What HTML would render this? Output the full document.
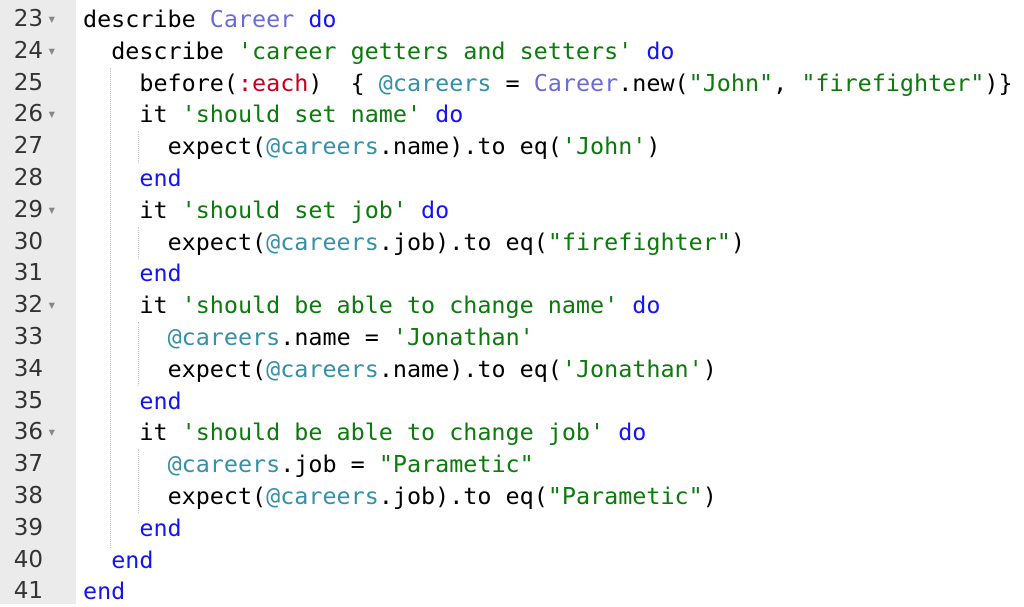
<!DOCTYPE html>
<html><head><meta charset="utf-8"><style>
body{margin:0;width:1024px;height:604px;background:#fff;overflow:hidden;position:relative;font-family:"DejaVu Sans Mono","Liberation Mono",monospace}
#g{position:absolute;left:0;top:0;width:76px;height:604px;background:#ebebeb}
.n{position:absolute;left:0;width:43px;text-align:right;font-family:"DejaVu Sans",sans-serif;font-size:23px;color:#333;line-height:32px}
.a{position:absolute;left:47px;font-size:16px;color:#888;line-height:32px}
.l{position:absolute;left:83px;font-family:"DejaVu Sans Mono",monospace;font-size:23.4px;line-height:32px;white-space:pre;color:#000}
.k{color:#1515ef}.c{color:#6b6bdd}.s{color:#0d7a0d}.y{color:#c8001e}.v{color:#3690a8}
.gd{position:absolute;width:0;border-left:1px dotted #c8c8c8}
</style></head><body>
<div id="g"></div>
<div class="gd" style="left:110px;top:68px;height:480px"></div>
<div class="gd" style="left:138px;top:131px;height:32px"></div>
<div class="gd" style="left:138px;top:227px;height:32px"></div>
<div class="gd" style="left:138px;top:322px;height:64px"></div>
<div class="gd" style="left:138px;top:449px;height:64px"></div>
<div id="c"></div>
<script>
var L=[
["23",1,'describe <span class="c">Career</span> <span class="k">do</span>'],
["24",1,'  describe <span class="s">\'career getters and setters\'</span> <span class="k">do</span>'],
["25",0,'    before(<span class="y">:each</span>)  { <span class="v">@careers</span> = <span class="c">Career</span>.new(<span class="s">"John"</span>, <span class="s">"firefighter"</span>)}'],
["26",1,'    it <span class="s">\'should set name\'</span> <span class="k">do</span>'],
["27",0,'      expect(<span class="v">@careers</span>.name).to eq(<span class="s">\'John\'</span>)'],
["28",0,'    <span class="k">end</span>'],
["29",1,'    it <span class="s">\'should set job\'</span> <span class="k">do</span>'],
["30",0,'      expect(<span class="v">@careers</span>.job).to eq(<span class="s">"firefighter"</span>)'],
["31",0,'    <span class="k">end</span>'],
["32",1,'    it <span class="s">\'should be able to change name\'</span> <span class="k">do</span>'],
["33",0,'      <span class="v">@careers</span>.name = <span class="s">\'Jonathan\'</span>'],
["34",0,'      expect(<span class="v">@careers</span>.name).to eq(<span class="s">\'Jonathan\'</span>)'],
["35",0,'    <span class="k">end</span>'],
["36",1,'    it <span class="s">\'should be able to change job\'</span> <span class="k">do</span>'],
["37",0,'      <span class="v">@careers</span>.job = <span class="s">"Parametic"</span>'],
["38",0,'      expect(<span class="v">@careers</span>.job).to eq(<span class="s">"Parametic"</span>)'],
["39",0,'    <span class="k">end</span>'],
["40",0,'  <span class="k">end</span>'],
["41",0,'<span class="k">end</span>']];
var h='';L.forEach(function(r,i){var t=3+i*31.8;
h+='<div class="n" style="top:'+t+'px">'+r[0]+'</div>';
if(r[1])h+='<div class="a" style="top:'+t+'px">&#9662;</div>';
h+='<div class="l" style="top:'+t+'px">'+r[2].replace(/^ +/,function(m){return m.replace(/ /g,'<span style="display:inline-block;width:14.1px"></span>')})+'</div>';});
document.getElementById('c').innerHTML=h;
</script>
</body></html>
